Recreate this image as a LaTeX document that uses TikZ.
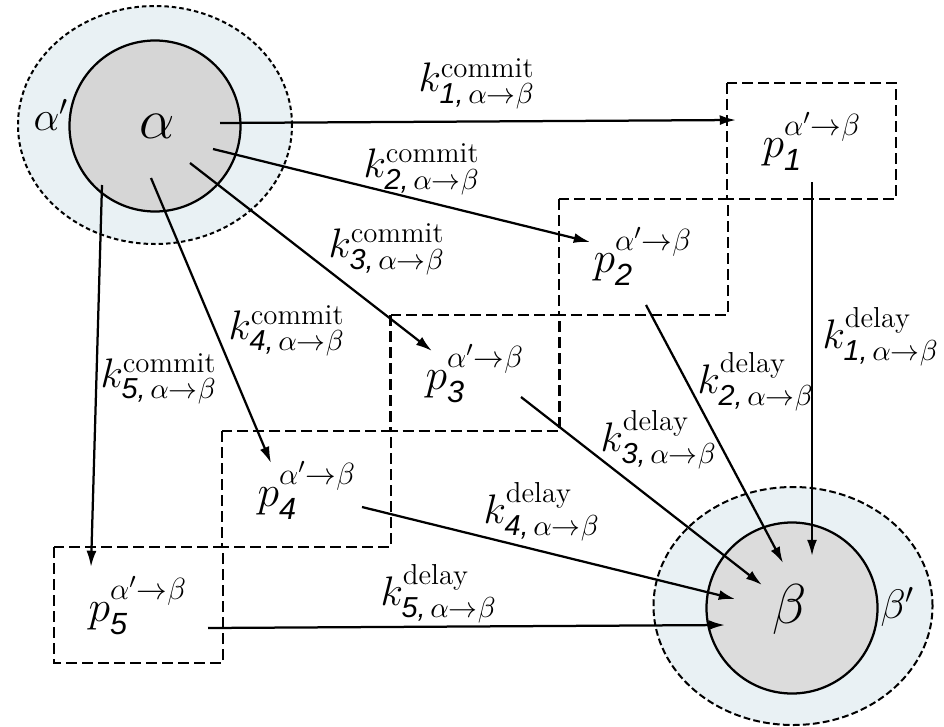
\RequirePackage{fix-cm}
\documentclass[tikz,border=0pt]{standalone}
\usepackage{amsmath,amssymb}
\usepackage{fontspec}
\newfontfamily\idxfont{Liberation Sans}
\usetikzlibrary{arrows.meta,shapes.geometric}
\definecolor{ringfill}{HTML}{E9F1F4}
\definecolor{corefillA}{HTML}{D6D6D6}
\definecolor{corefillB}{HTML}{DCDCDC}

\newcommand{\idx}[1]{\text{\idxfont\itshape #1}}
\newcommand{\kcom}[1]{$k^{\mathrm{commit}}_{\idx{#1,}\,\alpha\to\beta}$}
\newcommand{\kdel}[1]{$k^{\mathrm{delay}}_{\idx{#1,}\,\alpha\to\beta}$}
\newcommand{\pst}[1]{$p^{\alpha'\to\beta}_{\idx{#1}}$}

\begin{document}
\begin{tikzpicture}[x=0.4pt, y=-0.4pt,
    every node/.style={inner sep=0pt, font=\fontsize{16.5}{19}\selectfont},
    ring/.style={draw, fill=ringfill, line width=0.8pt, ellipse},
    core/.style={draw, circle, line width=0.9pt, minimum size=68.4pt},
    stage/.style={draw, line width=0.9pt, dash pattern=on 4.4pt off 2pt},
    flow/.style={line width=0.9pt, -{Latex[length=6.5pt,width=4pt]}}
  ]
  \def\pxu{0.4pt}
  \useasboundingbox (0,0) rectangle (944,726);

  % sets alpha and beta
  \node[ring, dash pattern=on 1.8pt off 1.2pt,
        minimum width=274*\pxu, minimum height=238*\pxu] (Aout) at (155,125) {};
  \node[ring, dash pattern=on 2.7pt off 1.3pt,
        minimum width=279*\pxu, minimum height=238*\pxu] (Bout) at (793,606) {};
  \node[core, fill=corefillA] (Ain) at (155,126) {};
  \node[core, fill=corefillB] (Bin) at (792,608) {};
  \node[anchor=base west, font=\fontsize{22.5}{26}\selectfont] (alpha) at (139,138) {$\alpha$};
  \node[anchor=base west, font=\fontsize{22.5}{26}\selectfont] (beta) at (772,623) {$\beta$};
  \node[anchor=base west] (alphap) at (33,130) {$\alpha'$};
  \node[anchor=base west] (betap) at (880,618) {$\beta'$};

  % staircase of intermediate states
  \foreach \i in {1,...,5}{
    \draw[stage] ({727-(\i-1)*168.25},{83+(\i-1)*116}) rectangle ++(169,116);
  }
  \foreach \i/\x/\y in {1/762/157, 2/593/272, 3/425/389, 4/257/506, 5/88/621}{
    \node[anchor=base west, font=\fontsize{17.5}{20}\selectfont] (p\i) at (\x,\y) {\pst{\i}};
  }

  % rate labels
  \foreach \i/\x/\y in {1/418/92, 2/363/177, 3/328/257, 4/228/339, 5/100/387}
    \node[anchor=base west] (kc\i) at (\x,\y) {\kcom{\i}};
  \foreach \i/\x/\y in {1/822/348, 2/697/393, 3/600/451, 4/483/523, 5/380/605}
    \node[anchor=base west] (kd\i) at (\x,\y) {\kdel{\i}};

  % commit arrows
  \foreach \i/\sx/\sy/\ex/\ey in {1/220/123/736/120, 2/213/149/590/242,
      3/190/163/432/351, 4/151/178/271/463, 5/102/185/91/567}{
    \coordinate (cs\i) at (\sx,\sy);
    \coordinate (ce\i) at (\ex,\ey);
    \draw[flow] (cs\i) -- (ce\i);
  }
  % delay arrows
  \foreach \i/\sx/\sy/\ex/\ey in {1/812/182/812/556, 2/646/305/783/563,
      3/521/397/762/585, 4/362/507/735/599, 5/208/628/725/625}{
    \coordinate (ds\i) at (\sx,\sy);
    \coordinate (de\i) at (\ex,\ey);
    \draw[flow] (ds\i) -- (de\i);
  }
\end{tikzpicture}
\end{document}
